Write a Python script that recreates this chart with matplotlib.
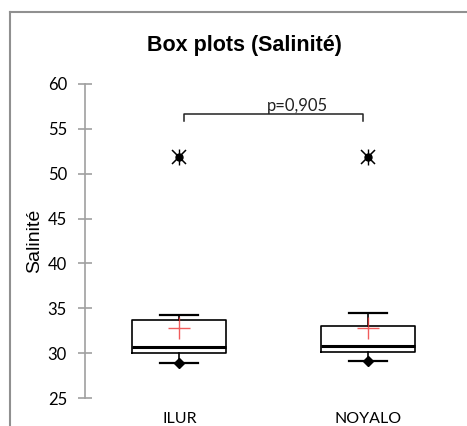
import matplotlib
matplotlib.use("Agg")
import matplotlib.pyplot as plt
from matplotlib.lines import Line2D

categories = ["ILUR", "NOYALO"]
q1 = [30.0, 30.1]
median = [30.65, 30.85]
q3 = [33.65, 33.05]
whis_lo = [28.9, 29.1]
whis_hi = [34.25, 34.5]
means = [32.8, 32.8]
outliers = [[51.9], [51.9]]
p_text = "p=0,905"
yticks = [25, 30, 35, 40, 45, 50, 55, 60]

fig = plt.figure(figsize=(4.67, 4.26), dpi=100)
ax = fig.add_axes([0.182, 0.0657, 0.808, 0.7373])

stats = []
for i, c in enumerate(categories):
    stats.append(dict(label=c, q1=q1[i], med=median[i], q3=q3[i],
                      whislo=whis_lo[i], whishi=whis_hi[i], mean=means[i], fliers=[]))

pos = [1, 2]
ax.bxp(stats, positions=pos, widths=0.5, showmeans=False, showfliers=False,
       boxprops=dict(color="black", linewidth=1.2),
       medianprops=dict(color="black", linewidth=2.2),
       whiskerprops=dict(color="black", linewidth=1.2),
       capprops=dict(color="black", linewidth=1.6), capwidths=0.2)

# lower whisker diamonds
ax.plot(pos, whis_lo, linestyle="none", marker="D", markersize=5, color="black", zorder=4)
# means
ax.plot(pos, means, linestyle="none", marker="+", markersize=16, markeredgewidth=1.0,
        color="#ee3333", alpha=0.8, zorder=5)
# outliers
for p, o in zip(pos, outliers):
    xs = [p] * len(o)
    ax.plot(xs, o, linestyle="none", marker="o", markersize=5, color="black", zorder=5)
    ax.plot(xs, o, linestyle="none", marker="x", markersize=10, markeredgewidth=1.1, color="black", zorder=5)
    ax.plot(xs, o, linestyle="none", marker="|", markersize=11, markeredgewidth=1.0, color="black", zorder=5)

# significance bracket
ax.plot([1.025, 1.025, 1.975, 1.975], [55.9, 56.7, 56.7, 55.9], color="#222222", linewidth=1.1,
        clip_on=False)
ax.text(1.624, 56.65, p_text, ha="center", va="bottom", fontsize=12, family="Lato", color="#222222")

ax.set_xlim(0.5, 2.5)
ax.set_ylim(25, 60)
ax.set_yticks(yticks)
ax.set_yticklabels([str(t) for t in yticks], family="Lato", fontsize=12)
ax.set_xticks(pos)
ax.set_xticklabels(categories, family="Lato", fontsize=11.5)
ax.tick_params(axis="y", direction="inout", length=10, color="#a0a0a0", width=1.2, pad=8)
ax.tick_params(axis="x", length=0, pad=10)
for s in ["top", "right", "bottom"]:
    ax.spines[s].set_visible(False)
ax.spines["left"].set_color("#a0a0a0")
ax.spines["left"].set_linewidth(1.2)

ax.set_ylabel("Salinité", family="Liberation Sans", fontsize=14, labelpad=3)
fig.text(0.524, 1 - 45 / 426, "Box plots (Salinité)", ha="center", va="center",
         family="Liberation Sans", fontweight="bold", fontsize=15.5)

# chart frame
fig.add_artist(Line2D([9.5 / 467, 9.5 / 467], [0, 1 - 11.5 / 426], transform=fig.transFigure,
                      color="#909090", linewidth=1.5))
fig.add_artist(Line2D([9.5 / 467, 1], [1 - 11.5 / 426, 1 - 11.5 / 426], transform=fig.transFigure,
                      color="#909090", linewidth=1.5))

fig.savefig("out.png", dpi=100)
